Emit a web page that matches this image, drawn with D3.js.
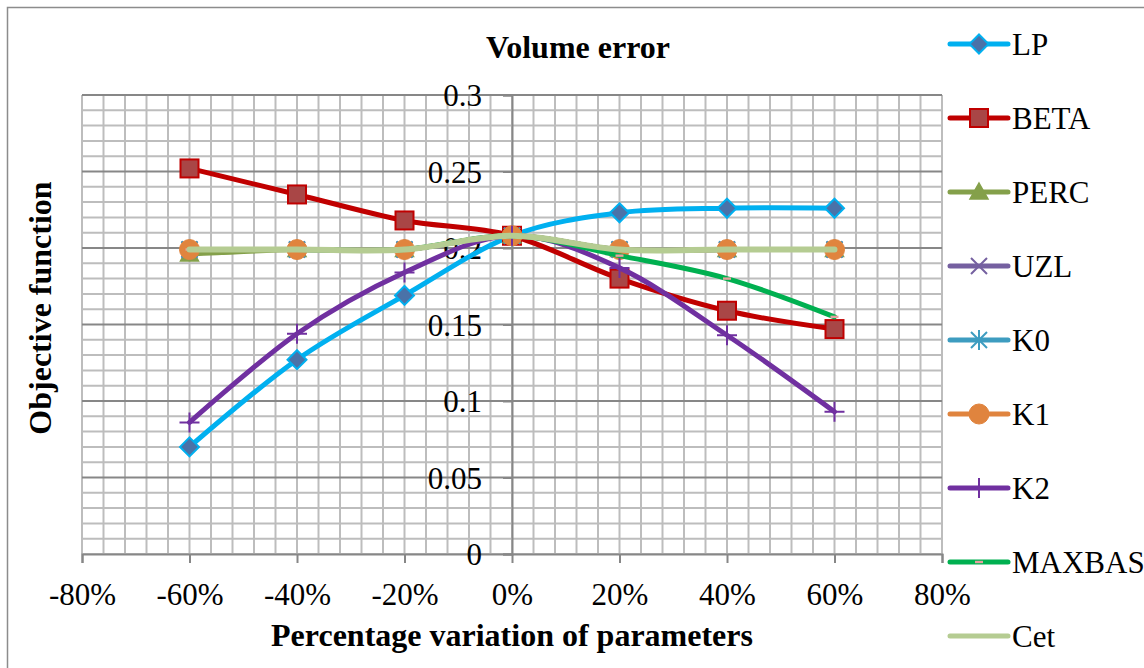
<!DOCTYPE html>
<html>
<head>
<meta charset="utf-8">
<script src="https://cdn.jsdelivr.net/npm/d3@7"></script>
<style>
  body { margin: 0; background: #fff; }
  svg text { font-family: "Times New Roman", "Liberation Serif", "DejaVu Serif", serif; }
</style>
</head>
<body>
<div id="chart"></div>
<script>
// x positions (fraction of parameter change)
const variations = [-0.6, -0.4, -0.2, 0, 0.2, 0.4, 0.6];
const xTicks = [-0.8, -0.6, -0.4, -0.2, 0, 0.2, 0.4, 0.6, 0.8];
const yTicks = [0, 0.05, 0.1, 0.15, 0.2, 0.25, 0.3];

// series values
const lpValues     = [0.070, 0.127, 0.169, 0.208, 0.223, 0.226, 0.226];
const betaValues   = [0.252, 0.235, 0.218, 0.208, 0.180, 0.159, 0.147];
const percValues   = [0.196, 0.199, 0.199, 0.208, 0.199, 0.199, 0.199];
const uzlValues    = [0.199, 0.199, 0.199, 0.208, 0.199, 0.199, 0.199];
const k0Values     = [0.199, 0.199, 0.199, 0.208, 0.199, 0.199, 0.199];
const k1Values     = [0.199, 0.199, 0.199, 0.208, 0.199, 0.199, 0.199];
const k2Values     = [0.086, 0.144, 0.184, 0.208, 0.187, 0.143, 0.093];
const maxbasValues = [0.199, 0.199, 0.199, 0.208, 0.195, 0.180, 0.155];
const cetValues    = [0.199, 0.199, 0.199, 0.208, 0.199, 0.199, 0.199];

const seriesNames = ["LP", "BETA", "PERC", "UZL", "K0", "K1", "K2", "MAXBAS", "Cet"];
const seriesValues = [lpValues, betaValues, percValues, uzlValues, k0Values, k1Values, k2Values, maxbasValues, cetValues];

const styles = {
    LP:     {line: "#00B0F0", marker: "diamond",  fill: "#4A72A8", stroke: "#00B0F0"},
    BETA:   {line: "#C00000", marker: "square",   fill: "#A94646", stroke: "#C00000"},
    PERC:   {line: "#84A04A", marker: "triangle", fill: "#84A04A", stroke: "#84A04A"},
    UZL:    {line: "#7560A0", marker: "x",        fill: "none",    stroke: "#7560A0"},
    K0:     {line: "#3D9CC0", marker: "star",     fill: "none",    stroke: "#3D9CC0"},
    K1:     {line: "#E0843E", marker: "circle",   fill: "#E0843E", stroke: "#E0843E"},
    K2:     {line: "#7030A0", marker: "plus",     fill: "none",    stroke: "#7030A0"},
    MAXBAS: {line: "#00B050", marker: "dash",     fill: "#E8A0A0", stroke: "#C08080"},
    Cet:    {line: "#B5CC92", marker: "none",     fill: "none",    stroke: "none"}
};

const FONT = "'Times New Roman', 'Liberation Serif', 'DejaVu Serif', serif";
const W = 1144, H = 668;
const svg = d3.select("#chart").append("svg")
    .attr("width", W)
    .attr("height", H)
    .attr("font-family", FONT);

// outer chart border (runs off right and bottom)
svg.append("rect")
    .attr("x", 7.5).attr("y", 7.5)
    .attr("width", 1160).attr("height", 700)
    .attr("fill", "none")
    .attr("stroke", "#8C8C8C")
    .attr("stroke-width", 1.5);

let x = d3.scaleLinear().domain([-0.8, 0.8]).range([82, 942]);
let y = d3.scaleLinear().domain([0, 0.3]).range([554, 95]);

// minor grid
const gridG = svg.append("g");
gridG.selectAll(".vgrid")
    .data(d3.range(-80, 81, 4).map(d => d / 100))
    .join("line")
    .attr("x1", d => x(d)).attr("x2", d => x(d))
    .attr("y1", y(0)).attr("y2", y(0.3))
    .attr("stroke", "#BDBDBD")
    .attr("stroke-width", 2);

gridG.selectAll(".hgrid")
    .data(d3.range(0, 31, 1).map(d => d / 100))
    .join("line")
    .attr("x1", x(-0.8)).attr("x2", x(0.8))
    .attr("y1", d => y(d)).attr("y2", d => y(d))
    .attr("stroke", d => (Math.round(d * 100) % 5 === 0 && d > 0) ? "#878787" : "#BDBDBD")
    .attr("stroke-width", 2);

// x axis along y = 0
const xAxis = svg.append("g")
    .attr("transform", "translate(0," + y(0) + ")")
    .call(d3.axisBottom(x)
        .tickValues(xTicks)
        .tickSize(9)
        .tickPadding(20)
        .tickFormat(d3.format(".0%")));
xAxis.attr("font-family", FONT);
xAxis.select(".domain").attr("stroke", "#878787").attr("stroke-width", 2);
xAxis.selectAll(".tick line").attr("stroke", "#878787").attr("stroke-width", 2);
xAxis.selectAll("text")
    .attr("font-size", 31)
    .attr("fill", "#000")
    .text(d => d3.format(".0%")(d).replace("−", "-"));

// y axis crossing at 0%
const yAxis = svg.append("g")
    .attr("transform", "translate(" + x(0) + ",0)")
    .call(d3.axisLeft(y)
        .tickValues(yTicks)
        .tickSize(9)
        .tickPadding(21)
        .tickFormat(d => String(d)));
yAxis.attr("font-family", FONT);
yAxis.select(".domain").attr("stroke", "#878787").attr("stroke-width", 2);
yAxis.selectAll(".tick line").attr("stroke", "#878787").attr("stroke-width", 2);
yAxis.selectAll("text")
    .attr("font-size", 31)
    .attr("fill", "#000")
    .attr("dy", "0.35em");

// marker drawing
function drawMarker(g, type, st) {
    if (type === "diamond") {
        g.append("path").attr("d", "M0,-9.5L9.5,0L0,9.5L-9.5,0Z")
            .attr("fill", st.fill).attr("stroke", st.stroke).attr("stroke-width", 2);
    } else if (type === "square") {
        g.append("rect").attr("x", -9).attr("y", -9).attr("width", 18).attr("height", 18)
            .attr("fill", st.fill).attr("stroke", st.stroke).attr("stroke-width", 2);
    } else if (type === "triangle") {
        g.append("path").attr("d", "M0,-9L9,7L-9,7Z")
            .attr("fill", st.fill).attr("stroke", st.stroke).attr("stroke-width", 1.5);
    } else if (type === "circle") {
        g.append("circle").attr("r", 10)
            .attr("fill", st.fill).attr("stroke", st.stroke).attr("stroke-width", 1);
    } else if (type === "x") {
        g.append("path").attr("d", "M-8,-8L8,8M-8,8L8,-8")
            .attr("stroke", st.stroke).attr("stroke-width", 2);
    } else if (type === "star") {
        g.append("path").attr("d", "M-8,-8L8,8M-8,8L8,-8M0,-10L0,10")
            .attr("stroke", st.stroke).attr("stroke-width", 2);
    } else if (type === "plus") {
        g.append("path").attr("d", "M-10,0L10,0M0,-10L0,10")
            .attr("stroke", st.stroke).attr("stroke-width", 2);
    } else if (type === "dash") {
        g.append("rect").attr("x", -4).attr("y", -1.2).attr("width", 8).attr("height", 2.4)
            .attr("fill", st.fill);
    }
}

let line = d3.line()
    .x(d => x(d[0]))
    .y(d => y(d[1]))
    .curve(d3.curveCatmullRom.alpha(0));

seriesNames.forEach(function (name, i) {
    const st = styles[name];
    const pts = variations.map((v, j) => [v, seriesValues[i][j]]);
    const g = svg.append("g");
    g.append("path")
        .datum(pts)
        .attr("d", line)
        .attr("fill", "none")
        .attr("stroke", st.line)
        .attr("stroke-width", name === "Cet" ? 6 : 5)
        .attr("stroke-linecap", "round");
    pts.forEach(function (p) {
        const mg = g.append("g").attr("transform", "translate(" + x(p[0]) + "," + y(p[1]) + ")");
        drawMarker(mg, st.marker, st);
    });
});

// legend
const legend = svg.append("g");
seriesNames.forEach(function (name, i) {
    const st = styles[name];
    const ly = 44 + i * 74;
    const lg = legend.append("g").attr("transform", "translate(0," + ly + ")");
    lg.append("line")
        .attr("x1", 950).attr("x2", 1008)
        .attr("stroke", st.line)
        .attr("stroke-width", 5)
        .attr("stroke-linecap", "round");
    const mg = lg.append("g").attr("transform", "translate(979,0)");
    drawMarker(mg, st.marker, st);
    lg.append("text")
        .attr("x", 1012)
        .attr("dy", "0.35em")
        .attr("font-size", 31)
        .text(name);
});

// titles
svg.append("text")
    .attr("x", 578).attr("y", 58)
    .attr("text-anchor", "middle")
    .attr("font-size", 32)
    .attr("font-weight", "bold")
    .text("Volume error");

svg.append("text")
    .attr("x", 512).attr("y", 646)
    .attr("text-anchor", "middle")
    .attr("font-size", 32)
    .attr("font-weight", "bold")
    .text("Percentage variation of parameters");

svg.append("text")
    .attr("transform", "translate(51,308) rotate(-90)")
    .attr("text-anchor", "middle")
    .attr("font-size", 32)
    .attr("font-weight", "bold")
    .text("Objective function");
</script>
</body>
</html>
